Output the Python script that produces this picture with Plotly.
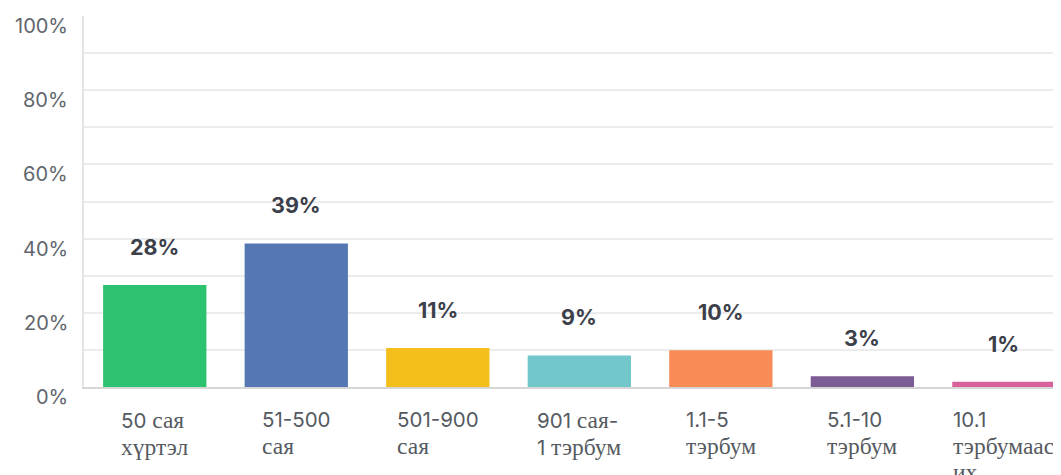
import re
import plotly.graph_objects as go

categories = ["50 сая<br>хүртэл", "51-500<br>сая", "501-900<br>сая", "901 сая-<br>1 тэрбум",
              "1.1-5<br>тэрбум", "5.1-10<br>тэрбум", "10.1<br>тэрбумаас<br>их"]
values = [27.5, 38.7, 10.5, 8.5, 9.9, 2.9, 1.4]
value_labels = ["28%", "39%", "11%", "9%", "10%", "3%", "1%"]
colors = ["#2dc26f", "#5578b5", "#f4be1b", "#72c7ca", "#f98b56", "#7d5b94", "#d8619c"]
y_ticks = [0, 20, 40, 60, 80, 100]
y_tick_text = ["0%", "20%", "40%", "60%", "80%", "100%"]

SANS = "Inter"
SERIF = "Liberation Serif"


def serif_cyrillic(label):
    return re.sub(r"([\u0400-\u04FF]+)",
                  lambda m: '<span style="font-family:' + SERIF + ', serif;font-size:23.5px;">' + m.group(1) + '</span>',
                  label)


x_idx = list(range(len(categories)))

fig = go.Figure()
fig.add_trace(go.Bar(
    x=x_idx, y=values, marker=dict(color=colors, line=dict(width=0)),
    width=0.73, hoverinfo="skip",
))

for i, (v, t) in enumerate(zip(values, value_labels)):
    fig.add_annotation(x=i, y=v, xref="x", yref="y", text=t, showarrow=False,
                       yanchor="middle", yshift=38,
                       font=dict(family=SANS, size=21.5, color="#3b404a", weight=700))

for i, c in enumerate(categories):
    fig.add_annotation(x=i, y=0, xref="x", yref="y", text=serif_cyrillic(c), showarrow=False,
                       xanchor="center", yanchor="top", align="left", yshift=-18,
                       font=dict(family=SANS, size=20.5, color="#555a61"))

for v, t in zip(y_ticks, y_tick_text):
    fig.add_annotation(x=0, y=v, xref="paper", yref="y", text=t, showarrow=False,
                       xanchor="right", yanchor="middle", xshift=-14, yshift=-10,
                       font=dict(family=SANS, size=20, color="#61666d"))

fig.update_layout(
    width=1061, height=475,
    margin=dict(l=76, r=0, t=7.5, b=96, autoexpand=False),
    paper_bgcolor="white", plot_bgcolor="white",
    showlegend=False,
    xaxis=dict(range=[-0.5, 6.46], showticklabels=False, showgrid=False, zeroline=False,
               showline=True, linecolor="#d6d6d6", linewidth=2, ticks="", automargin=False),
    yaxis=dict(range=[0, 100], tickvals=y_ticks, showticklabels=False,
               showgrid=True, gridcolor="#ececec", gridwidth=1.5,
               minor=dict(dtick=10, showgrid=True, gridcolor="#ececec", gridwidth=1.5),
               zeroline=False, showline=True, linecolor="#e4e4e4", linewidth=2,
               ticks="", automargin=False),
)

fig.write_html("out.html")
